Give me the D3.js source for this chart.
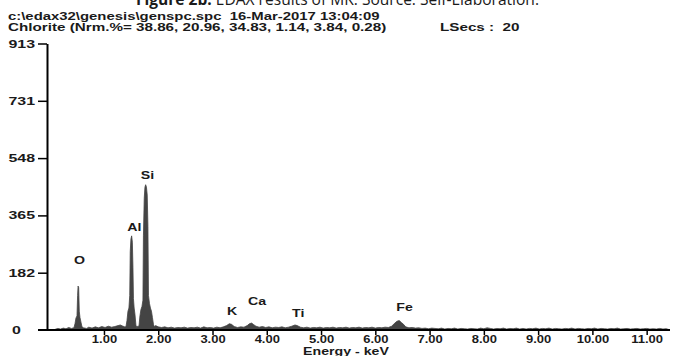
<!DOCTYPE html>
<html>
<head>
<meta charset="utf-8">
<script src="https://cdn.jsdelivr.net/npm/d3@7"></script>
<style>
body{margin:0;background:#fff;}
svg{display:block;}
text{font-family:"Liberation Sans",Arial,sans-serif;font-weight:bold;fill:#1a1a1a;white-space:pre;}
</style>
</head>
<body>
<svg></svg>
<script>
// spectrum: [energy keV, counts]
const spectrum = [
  [0.08,0],[0.10,2],[0.15,5],[0.20,3],[0.25,6],[0.30,4],[0.35,8],[0.40,5],[0.44,7],
  [0.448,8],[0.466,20],[0.484,38],[0.503,45],[0.514,110],[0.523,140],[0.534,135],[0.545,60],[0.558,40],[0.576,25],[0.595,10],
  [0.62,7],[0.68,5],[0.72,9],[0.78,6],[0.84,10],[0.90,7],[0.96,11],[1.02,8],[1.08,12],[1.14,9],[1.20,11],[1.26,14],[1.30,16],[1.34,13],[1.38,10],
  [1.405,10],[1.424,30],[1.442,60],[1.460,70],[1.475,110],[1.484,250],[1.497,290],[1.510,300],[1.523,280],[1.534,200],[1.543,100],[1.556,70],[1.571,50],[1.589,15],[1.608,8],
  [1.62,12],[1.645,12],[1.663,45],[1.681,65],[1.700,75],[1.718,95],[1.727,300],[1.742,420],[1.755,455],[1.768,463],[1.783,455],[1.797,430],[1.810,330],[1.820,110],[1.838,85],[1.856,70],[1.875,60],[1.893,40],[1.912,18],[1.930,10],
  [1.95,14],[2.00,10],[2.06,8],[2.12,10],[2.18,7],[2.24,9],[2.30,6],[2.36,8],[2.42,7],[2.48,9],[2.54,6],[2.60,8],[2.66,7],[2.72,9],[2.78,6],[2.84,10],[2.90,7],[2.96,8],[3.02,6],[3.08,9],[3.14,7],[3.20,10],
  [3.26,14],[3.31,20],[3.35,18],[3.40,11],[3.46,8],[3.52,10],[3.58,9],[3.64,14],[3.68,20],[3.72,22],[3.76,17],[3.80,12],[3.86,9],[3.92,11],[3.98,8],
  [4.04,10],[4.10,7],[4.16,9],[4.22,8],[4.28,10],[4.34,7],[4.40,9],[4.46,12],[4.52,16],[4.56,14],[4.62,9],[4.68,7],[4.74,9],[4.80,6],[4.86,8],[4.92,7],[4.98,9],
  [5.04,6],[5.10,8],[5.16,7],[5.22,9],[5.28,6],[5.34,8],[5.40,7],[5.46,9],[5.52,6],[5.58,8],[5.64,7],[5.70,9],[5.76,6],[5.82,8],[5.88,7],[5.94,9],
  [6.00,6],[6.06,8],[6.12,7],[6.18,9],[6.24,8],[6.30,12],[6.36,22],[6.40,28],[6.44,30],[6.48,24],[6.52,18],[6.56,10],[6.62,7],[6.68,8],[6.74,6],[6.80,7],[6.86,5],[6.92,6],[6.98,4],
  [7.04,6],[7.10,5],[7.16,4],[7.22,6],[7.28,3],[7.34,5],[7.40,4],[7.46,6],[7.52,3],[7.58,5],[7.64,4],[7.70,3],[7.76,5],[7.82,4],[7.88,3],[7.94,6],
  [8.00,4],[8.06,7],[8.12,5],[8.18,3],[8.24,5],[8.30,4],[8.36,6],[8.42,3],[8.48,5],[8.54,4],[8.60,6],[8.66,3],[8.72,5],[8.78,3],[8.84,5],[8.90,4],[8.96,6],
  [9.02,3],[9.08,5],[9.14,4],[9.20,6],[9.26,3],[9.32,5],[9.38,4],[9.44,3],[9.50,5],[9.56,4],[9.62,6],[9.68,3],[9.74,5],[9.80,4],[9.86,3],[9.92,5],[9.98,4],
  [10.04,6],[10.10,3],[10.16,5],[10.22,4],[10.28,3],[10.34,5],[10.40,4],[10.46,6],[10.52,3],[10.58,4],[10.64,5],[10.70,3],[10.76,4],[10.82,5],[10.88,3],[10.94,4],
  [11.00,5],[11.06,3],[11.12,4],[11.18,3],[11.24,5],[11.30,3],[11.36,4],[11.40,2],[11.42,0]
]

const peakNames = ['O','Al','Si','K','Ca','Ti','Fe']
const peakLabelKeV = [0.55,1.56,1.80,3.36,3.82,4.58,6.54]
const peakLabelCounts = [211,316,482,48,80,41,62]

const xTicks = [1,2,3,4,5,6,7,8,9,10,11]
const yTickValues = [0,182.6,365.2,547.8,730.4,913]
const yTickLabels = ['0','182','365','548','731','913']

const headerLines = [
  'c:\\edax32\\genesis\\genspc.spc  16-Mar-2017 13:04:09',
  'Chlorite (Nrm.%= 38.86, 20.96, 34.83, 1.14, 3.84, 0.28)'
]
const lsecsText = 'LSecs :  20'

const widthSVG = 674
const heightSVG = 356

let svg = d3.select('svg').attr('width', widthSVG).attr('height', heightSVG)

let xScale = d3.scaleLinear().domain([0, 11.43]).range([49.7, 670])
let yScale = d3.scaleLinear().domain([0, 913]).range([330, 43.5])

// the original text is stretched sideways, so every label gets a scaleX
function texto(str, x, y, anchor, size, sx){
  return svg.append('text')
     .attr('transform', 'translate(' + x + ',' + y + ') scale(' + sx + ',1)')
     .attr('text-anchor', anchor)
     .style('font-size', size + 'px')
     .text(str)
}

// title cut off at the top
let titulo = svg.append('text')
   .attr('x', 136).attr('y', 5)
   .attr('textLength', 403).attr('lengthAdjust', 'spacingAndGlyphs')
   .style('font-family', '"Open Sans", "Liberation Sans", sans-serif')
   .style('font-weight', 'normal')
   .style('font-size', '16px')
titulo.append('tspan').style('font-weight', 'bold').text('Figure 2b.')
titulo.append('tspan').text(' EDAX results of MK. Source: Self-Elaboration.')

texto(headerLines[0], 8, 20, 'start', 10.5, 1.42)
texto(headerLines[1], 8, 31, 'start', 10.5, 1.45)
texto(lsecsText, 440, 31, 'start', 10.5, 1.45)

// spectrum
let area = d3.area()
   .x(d => xScale(d[0]))
   .y0(yScale(0))
   .y1(d => yScale(d[1]))

svg.append('path')
   .datum(spectrum)
   .attr('d', area)
   .attr('fill', '#444')
   .attr('stroke', '#444')
   .attr('stroke-width', 0.8)

// y axis
let yAxis = d3.axisLeft(yScale)
   .tickValues(yTickValues.slice(1))
   .tickFormat((d, i) => yTickLabels[i + 1])
   .tickSize(9)
   .tickSizeOuter(0)

let gy = svg.append('g')
   .attr('transform', 'translate(47,0)')
   .call(yAxis)
gy.select('.domain').attr('stroke', '#000').attr('stroke-width', 2)
gy.selectAll('.tick line').attr('stroke', '#000').attr('stroke-width', 1.5)
gy.selectAll('.tick text')
   .attr('x', 0)
   .attr('transform', 'translate(-12,0) scale(1.45,1)')
   .style('font-size', '11px')
   .attr('font-family', null)

texto(yTickLabels[0], 16.5, yScale(yTickValues[0]) + 4, 'middle', 11, 1.45)

// x axis
let xAxis = d3.axisBottom(xScale)
   .tickValues(xTicks)
   .tickFormat(d3.format('.2f'))
   .tickSize(5)
   .tickPadding(1)

let gx = svg.append('g')
   .attr('transform', 'translate(0,' + yScale(0) + ')')
   .call(xAxis)
gx.select('.domain').remove()
gx.append('line')
   .attr('x1', 38).attr('x2', xScale.range()[1])
   .attr('stroke', '#000').attr('stroke-width', 2)
gx.selectAll('.tick line').attr('stroke', '#000').attr('stroke-width', 1.5)
gx.selectAll('.tick text')
   .attr('transform', 'scale(1.3,1)')
   .style('font-size', '10px')
   .attr('font-family', null)

texto('Energy - keV', 346, 355, 'middle', 10.5, 1.35)

// peak labels
peakNames.forEach((nombre, i) => {
  texto(nombre, xScale(peakLabelKeV[i]), yScale(peakLabelCounts[i]), 'middle', 10.5, 1.35)
})
</script>
</body>
</html>
